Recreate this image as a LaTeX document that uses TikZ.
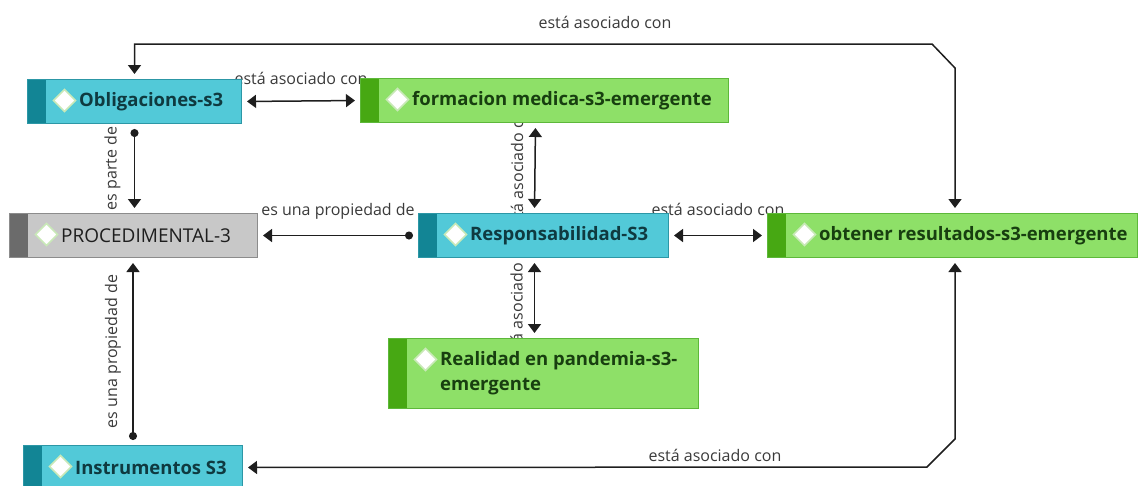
\documentclass[tikz,border=0pt]{standalone}
\usepackage{fontspec}
\setmainfont{Open Sans}
\usetikzlibrary{positioning,arrows.meta}
\definecolor{cyanfill}{HTML}{52C9D8}
\definecolor{cyanline}{HTML}{2C97A6}
\definecolor{cyanbar}{HTML}{128595}
\definecolor{cyantext}{HTML}{0F3A40}
\definecolor{greenfill}{HTML}{8EE068}
\definecolor{greenline}{HTML}{5DB83A}
\definecolor{greenbar}{HTML}{47A813}
\definecolor{greentext}{HTML}{183F10}
\definecolor{greyfill}{HTML}{C8C8C8}
\definecolor{greyline}{HTML}{8C8C8C}
\definecolor{greybar}{HTML}{6B6B6B}
\definecolor{greytext}{HTML}{1E1E1E}
\definecolor{dmdline}{HTML}{C9E9B8}
\definecolor{wire}{HTML}{1E1E1E}
\definecolor{lblgrey}{HTML}{3A3A3A}
\pgfdeclarelayer{background}
\pgfsetlayers{background,main}
\tikzset{
  concept/.style n args={3}{rectangle, fill=#1, draw=#2, line width=1pt, anchor=north west, minimum height=44pt,
    path picture={
      \fill[#3] (path picture bounding box.south west) rectangle ([xshift=18pt]path picture bounding box.north west);
      \draw[dmdline, fill=white, line width=1.5pt] ([xshift=37pt,yshift=-21pt]path picture bounding box.north west)
        +(-11pt,0pt) -- +(0pt,11pt) -- +(11pt,0pt) -- +(0pt,-11pt) -- cycle;}},
  cyanbox/.style={concept={cyanfill}{cyanline}{cyanbar}},
  greenbox/.style={concept={greenfill}{greenline}{greenbar}},
  greybox/.style={concept={greyfill}{greyline}{greybar}},
  boxtext/.style={inner sep=0pt, text=#1, font=\fontsize{18.5}{25}\selectfont\bfseries},
  assoc/.style={draw=wire, line width=1.5pt, {Triangle[width=13pt,length=9pt]}-{Triangle[width=13pt,length=9pt]},
    shorten <=5pt, shorten >=5pt},
  prop/.style={draw=wire, line width=1.5pt, {Circle[length=8pt]}-{Triangle[width=13pt,length=9pt]},
    shorten <=5pt, shorten >=5pt},
  rel/.style={inner sep=0pt, anchor=base, text=lblgrey, font=\fontsize{16}{19}\selectfont},
  vrel/.style={rel, rotate=90}
}
\begin{document}
\begin{tikzpicture}[x=1pt, y=-1pt]
\useasboundingbox (0,0) rectangle (1138,485);
\node[cyanbox, minimum width=214pt] (oblig) at (27,79) {};
\node[greenbox, minimum width=368pt] (form) at (360,78) {};
\node[greybox, minimum width=248pt] (proc) at (9,213) {};
\node[cyanbox, minimum width=250pt] (resp) at (418,213) {};
\node[greenbox, minimum width=370pt] (obt) at (767,213) {};
\node[greenbox, minimum width=310pt, minimum height=70pt] (real) at (388,338) {};
\node[cyanbox, minimum width=219pt] (instr) at (23,445) {};
\node[boxtext=cyantext, right=52pt of oblig.west] (oblig-t) {Obligaciones-s3};
\node[boxtext=greentext, right=52pt of form.west] (form-t) {formacion medica-s3-emergente};
\node[boxtext=greytext, font=\fontsize{19}{25}\selectfont, right=52pt of proc.west] (proc-t) {PROCEDIMENTAL-3};
\node[boxtext=cyantext, right=52pt of resp.west] (resp-t) {Responsabilidad-S3};
\node[boxtext=greentext, right=52pt of obt.west] (obt-t) {obtener resultados-s3-emergente};
\node[boxtext=greentext, right=52pt of real.west, align=left] (real-t) {Realidad en pandemia-s3-\\emergente};
\node[boxtext=cyantext, right=52pt of instr.west] (instr-t) {Instrumentos S3};
\coordinate (tl) at (932,44);
\coordinate (tr) at (955,68);
\coordinate (br) at (955,439);
\coordinate (bl) at (927,467);
\begin{pgfonlayer}{background}
\draw[assoc] (oblig.east) -- node[rel, yshift=17pt] (r1) {está asociado con} (form.west);
\draw[prop] (oblig.south) -- node[xshift=-18pt, vrel] (r2) {es parte de} (oblig.south |- proc.north);
\draw[assoc] ([xshift=-9pt]form.south) -- node[xshift=-12pt, vrel] (r3) {está asociado con} ([xshift=-9pt]resp.north);
\draw[prop] (resp.west) -- node[rel, yshift=20pt] (r4) {es una propiedad de} (proc.east);
\draw[assoc] (resp.east) -- node[rel, yshift=20pt] (r5) {está asociado con} (obt.west);
\draw[assoc] ([xshift=-9pt]resp.south) -- node[xshift=-12pt, vrel] (r6) {está asociado con} ([xshift=-9pt]real.north);
\draw[prop] (instr.north) -- node[xshift=-16pt, vrel] (r7) {es una propiedad de} (instr.north |- proc.south);
\draw[assoc] (oblig.north) -- (oblig.north |- tl) -- node[rel, pos=0.59, yshift=16pt] (r8) {está asociado con} (tl)
  -- (tr) -- (tr |- obt.north);
\draw[assoc] (instr.east) -- node[rel, pos=0.69, yshift=6pt] (r9) {está asociado con} (bl)
  -- (br) -- (br |- obt.south);
\end{pgfonlayer}
\end{tikzpicture}
\end{document}
